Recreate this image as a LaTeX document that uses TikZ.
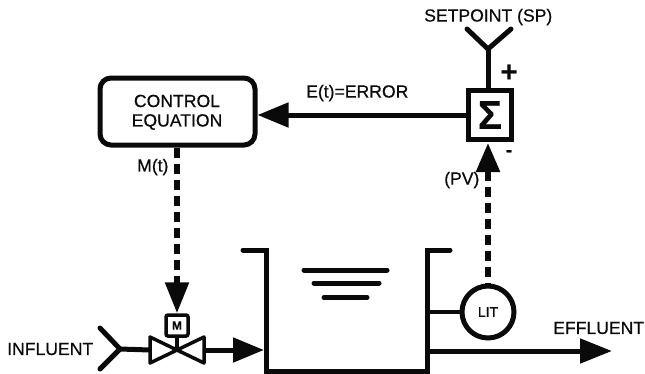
\documentclass[tikz,border=0pt]{standalone}
\usepackage{fontspec}
\setmainfont{Liberation Sans}[RawFeature={embolden=0.5}]
\usetikzlibrary{arrows.meta}
\definecolor{inkc}{HTML}{0A0A0A}
\tikzset{
  x=1pt,y=-1pt,
  pipe/.style={line width=5pt,draw=inkc},
  sig/.style={line width=5.5pt,draw=inkc,dash pattern=on 10pt off 6pt},
  head/.style={-{Triangle[length=31pt,width=24pt,color=inkc]}},
  lab/.style={inner sep=0pt,text=inkc,font=\fontsize{17.6}{20}\selectfont},
  small/.style={inner sep=0pt,text=inkc,font=\fontsize{14}{15}\selectfont},
  water/.style={line width=5pt,draw=inkc,line cap=round},
}
\begin{document}
\begin{tikzpicture}
\useasboundingbox (0,0) rectangle (645,373);
% nodes
\node[draw=inkc,line width=5pt,rounded corners=11pt,minimum width=155pt,minimum height=67pt,inner sep=0pt] (ctrl) at (177.5,111.5) {};
\node[lab] (ctrlA) at (177,101) {CONTROL};
\node[lab] (ctrlB) at (177,122) {EQUATION};
\node[draw=inkc,line width=5pt,minimum width=43pt,minimum height=49pt,inner sep=0pt,text=inkc,font=\fontsize{40}{40}\selectfont\bfseries] (sum) at (490,115) {Σ};
\node[draw=inkc,line width=3.5pt,rounded corners=2pt,minimum width=22pt,minimum height=21pt,inner sep=0pt,font=\fontsize{12}{12}\selectfont\bfseries,text=inkc] (mot) at (177,325.5) {M};
\node[circle,draw=inkc,line width=5pt,minimum size=52pt,inner sep=0pt,small] (lit) at (488,312) {LIT};
% coordinates
\coordinate (spJ) at (488,49);
\coordinate (spA) at (467,29);
\coordinate (spB) at (511,29);
\coordinate (inJ) at (120,349);
\coordinate (inA) at (100,328);
\coordinate (inB) at (100,369);
\coordinate (valve) at (177,350);
\coordinate (valveR) at (204,350);
\coordinate (valveL) at (150,350);
\coordinate (tankInlet) at (264,350);
\coordinate (tankLL) at (266,371);
\coordinate (tankLT) at (266,250);
\coordinate (tankLip) at (243,250);
\coordinate (tankRL) at (427,371);
\coordinate (tankRT) at (427,250);
\coordinate (tankRip) at (450,250);
\coordinate (tankLit) at (427,312);
\coordinate (tankOut) at (427,351);
\coordinate (effTip) at (612,351);
\coordinate (pvTip) at (488,143);
% setpoint
\draw[pipe,line cap=round,line join=miter] (spA) -- (spJ) -- (spB);
\draw[pipe] (spJ) -- (spJ |- sum.north);
% error arrow
\draw[pipe,head] (sum.west) -- (ctrl.east |- sum.west);
% PV
\draw[sig,{Triangle[length=29pt,width=23pt,color=inkc]}-] (pvTip) -- (lit.north);
% M(t)
\draw[sig,-{Triangle[length=31pt,width=23pt,color=inkc]}] (mot.north |- ctrl.south) -- (mot.north);
% influent
\draw[pipe,line cap=round] (inA) -- (inJ) -- (inB);
\draw[pipe] (inJ) -- (valveL);
\draw[line width=3.5pt,draw=inkc,line join=round,fill=white] (valveL |- 0,337) -- (valve) -- (valveL |- 0,363) -- cycle;
\draw[line width=3.5pt,draw=inkc,line join=round,fill=white] (valveR |- 0,337) -- (valve) -- (valveR |- 0,363) -- cycle;
\draw[line width=3.5pt,draw=inkc] (mot.south) -- (valve);
\draw[pipe,head] (valveR) -- (tankInlet);
% tank
\draw[pipe,line cap=round,line join=miter] (tankLip) -- (tankLT) -- (tankLL) -- (tankRL) -- (tankRT) -- (tankRip);
\draw[line width=3.5pt,draw=inkc] (tankLit) -- (lit.west);
\draw[pipe,-{Triangle[length=32pt,width=24pt,color=inkc]}] (tankOut) -- (effTip);
% water
\draw[water] (304,270) -- (387,270);
\draw[water] (314,283) -- (379,283);
\draw[water] (324,297.5) -- (367,297.5);
% labels
\node[lab,anchor=west] (tIn) at (7,349) {INFLUENT};
\node[lab,anchor=west] (tSp) at (424,17) {SETPOINT (SP)};
\node[lab,anchor=west] (tE) at (306,93) {E(t)=ERROR};
\node[lab,anchor=west] (tM) at (137,167) {M(t)};
\node[lab,anchor=west] (tPv) at (444,180) {(PV)};
\node[lab,anchor=west] (tEff) at (553,328) {EFFLUENT};
\node[inner sep=0pt,text=inkc,font=\fontsize{29}{29}\selectfont\bfseries] (tPlus) at (509,73) {+};
\node[inner sep=0pt,text=inkc,font=\fontsize{18}{18}\selectfont\bfseries] (tMinus) at (509,153) {-};
\end{tikzpicture}
\end{document}
